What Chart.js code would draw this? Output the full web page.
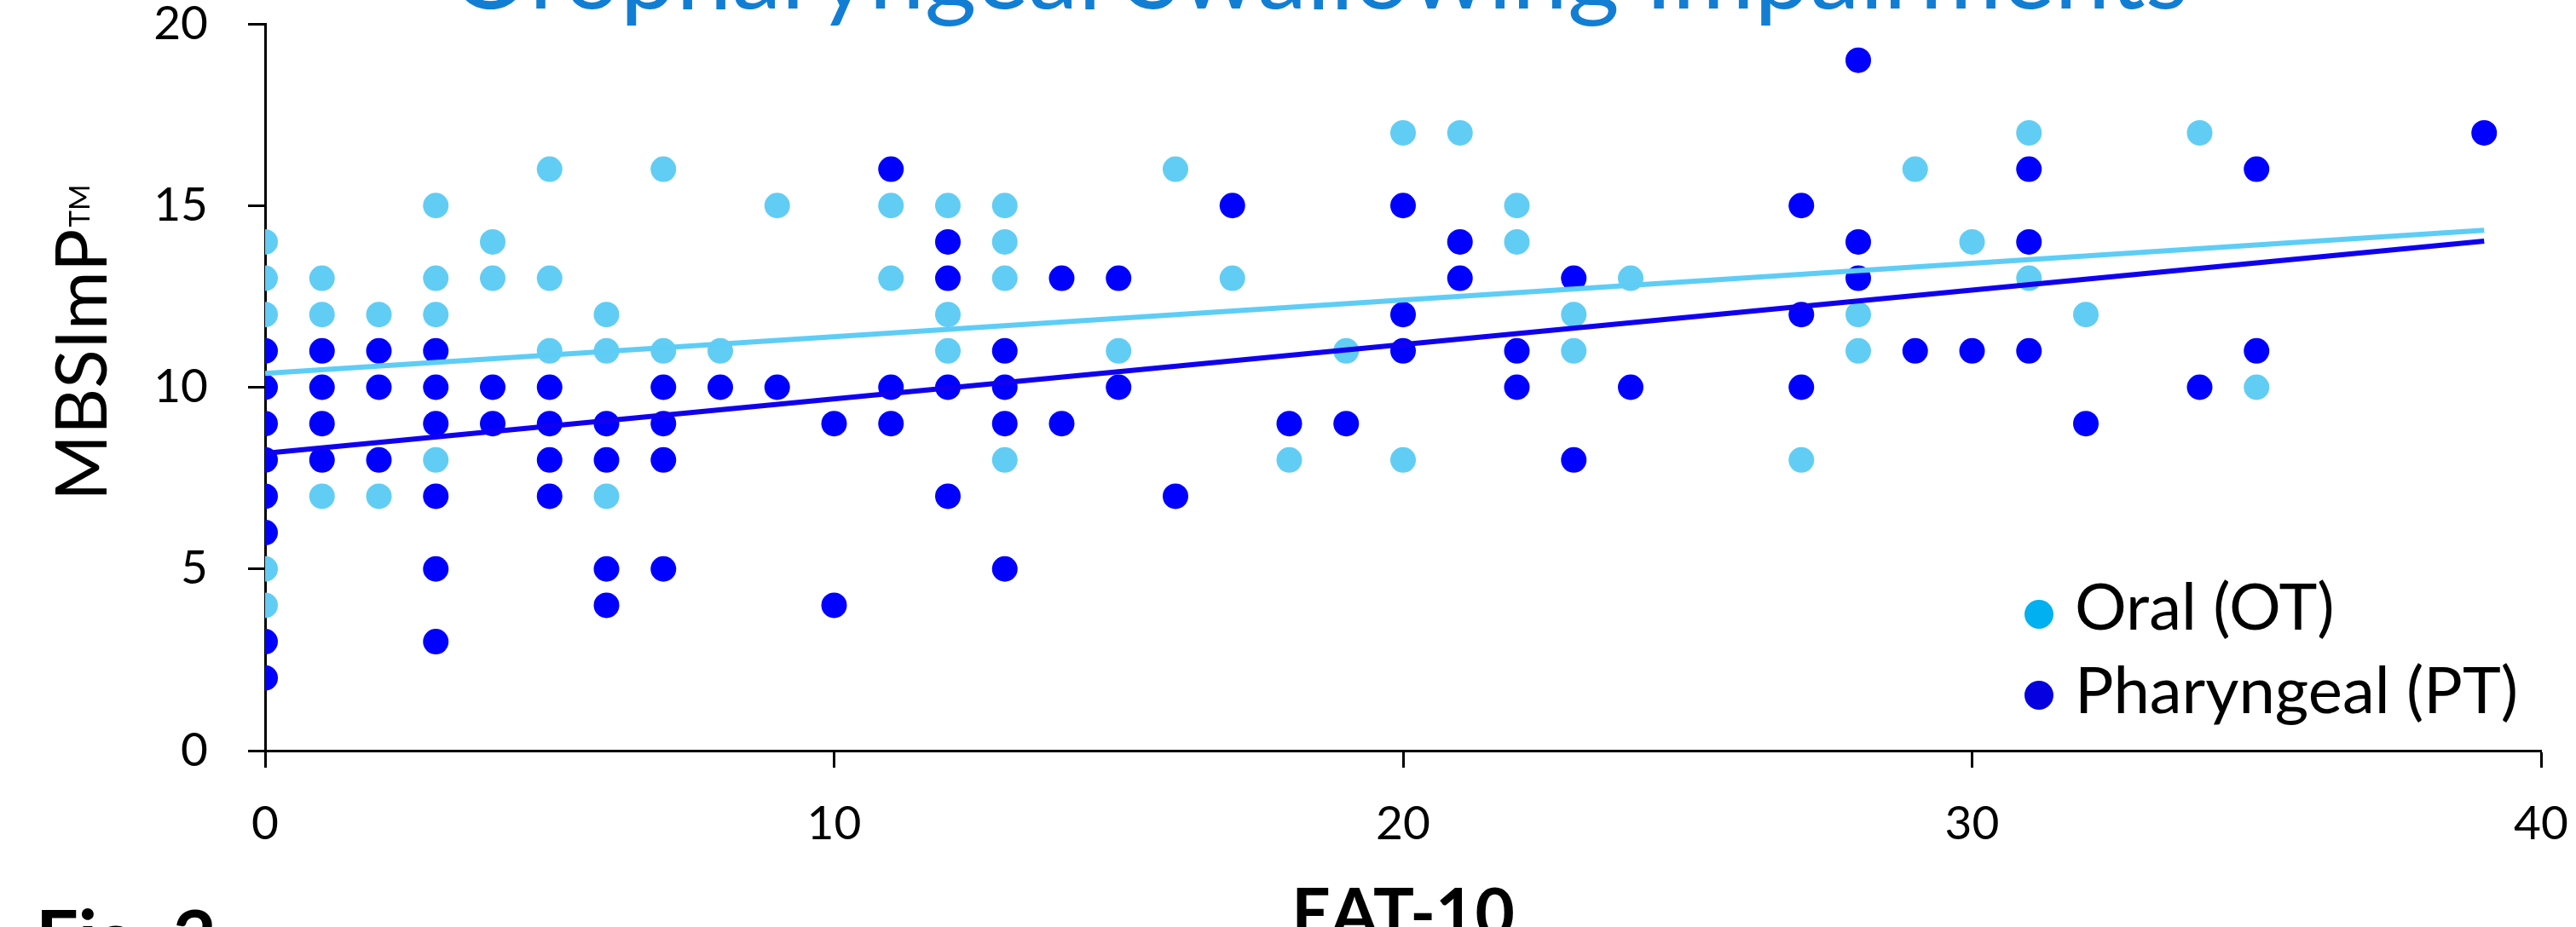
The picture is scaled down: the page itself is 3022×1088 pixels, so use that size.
<!DOCTYPE html>
<html>
<head>
<meta charset="utf-8">
<title>Oropharyngeal Swallowing Impairments</title>
<script src="https://cdn.jsdelivr.net/npm/chart.js@4.4.1/dist/chart.umd.min.js"></script>
<style>
  html, body { margin: 0; padding: 0; background: #fff; }
  #wrap { width: 3022px; height: 1088px; }
</style>
</head>
<body>
<div id="wrap"><canvas id="myChart" width="3022" height="1088"></canvas></div>
<script>
// EAT-10 score (x) vs MBSImP score (y), one entry per patient
let oralX = [0,0,0,0,0, 1,1,1, 2,2, 3,3,3,3, 4,4, 5,5,5, 6,6,6, 7,7, 8, 9, 11,11, 12,12,12,
  13,13,13,13, 15, 16, 17, 18, 19, 20,20, 21, 22,22, 23,23, 24, 27, 28,28, 29, 30, 31,31, 32, 34, 35];
let oralY = [14,13,12,5,4, 13,12,7, 12,7, 15,13,12,8, 14,13, 16,13,11, 12,11,7, 16,11, 11, 15, 15,13, 15,12,11,
  15,14,13,8, 11, 16, 13, 8, 11, 17,8, 17, 15,14, 12,11, 13, 8, 12,11, 16, 14, 17,13, 12, 17, 10];

let pharX = [0,0,0,0,0,0,0,0, 1,1,1,1, 2,2,2, 3,3,3,3,3,3, 4,4, 5,5,5,5, 6,6,6,6, 7,7,7,7, 8, 9, 10,10,
  11,11,11, 12,12,12,12, 13,13,13,13, 14,14, 15,15, 16, 17, 18, 19, 20,20,20, 21,21, 22,22, 23,23, 24,
  27,27,27, 28,28,28, 29, 30, 31,31,31, 32, 34, 35,35, 39];
let pharY = [11,10,9,8,7,6,3,2, 11,10,9,8, 11,10,8, 11,10,9,7,5,3, 10,9, 10,9,8,7, 9,8,5,4, 10,9,8,5, 10, 10, 9,4,
  16,10,9, 14,13,10,7, 11,10,9,5, 13,9, 13,10, 7, 15, 9, 9, 15,12,11, 14,13, 11,10, 13,8, 10,
  15,12,10, 19,14,13, 11, 11, 16,14,11, 9, 10, 16,11, 17];

// trend line end points
let oralTrendX = [0, 39];
let oralTrendY = [10.38, 14.32];
let pharTrendX = [0, 39];
let pharTrendY = [8.18, 14.02];

let seriesLabels = ['Oral (OT)', 'Pharyngeal (PT)'];
let pointColors = ['#62cdf4', '#0000ff'];
let lineColors = ['#5ecdf6', '#1000f0'];
let legendColors = ['#00b0f0', '#0500e0'];

let xTicks = [0, 10, 20, 30, 40];
let yTicks = [0, 5, 10, 15, 20];

function toPoints(xs, ys) {
  return xs.map(function (x, i) { return { x: x, y: ys[i] }; });
}

const FONT = "Lato, 'Noto Sans', sans-serif";

const extras = {
  id: 'extras',
  afterDraw(chart) {
    const ctx = chart.ctx;
    const area = chart.chartArea;
    ctx.save();

    // title, cut by the top edge as in the figure
    ctx.fillStyle = '#127ed3';
    ctx.font = '117px ' + FONT;
    ctx.textAlign = 'center';
    ctx.textBaseline = 'alphabetic';
    ctx.fillText('Oropharyngeal Swallowing Impairments', 1548, 10);

    // y title with small TM
    ctx.fillStyle = '#000';
    ctx.save();
    ctx.translate(125, 588);
    ctx.rotate(-Math.PI / 2);
    ctx.textAlign = 'left';
    ctx.font = '84px ' + FONT;
    ctx.fillText('MBSImP', 0, 0);
    const w = ctx.measureText('MBSImP').width;
    ctx.font = '33px ' + FONT;
    ctx.fillText('TM', w + 2, -20);
    ctx.restore();

    // x title and figure label, only their tops visible
    ctx.font = 'bold 80px ' + FONT;
    ctx.textAlign = 'center';
    ctx.fillText('EAT-10', (area.left + area.right) / 2, 1100);
    ctx.font = 'bold 88px ' + FONT;
    ctx.textAlign = 'left';
    ctx.fillText('Fig. 2', 42, 1132);

    // legend inside the plot, bottom right
    ctx.font = '76px ' + FONT;
    ctx.textAlign = 'left';
    const lx = area.right - 589;
    const rows = [area.bottom - 160, area.bottom - 65];
    const bases = [area.bottom - 142, area.bottom - 44];
    for (let i = 0; i < seriesLabels.length; i++) {
      ctx.fillStyle = legendColors[i];
      ctx.beginPath();
      ctx.arc(lx, rows[i], 17, 0, Math.PI * 2);
      ctx.fill();
      ctx.fillStyle = '#000';
      ctx.fillText(seriesLabels[i], lx + 42, bases[i]);
    }
    ctx.restore();
  }
};

let ctx = document.getElementById('myChart').getContext('2d');
let myChart = new Chart(ctx, {
  type: 'scatter',
  data: {
    datasets: [
      {
        type: 'line', label: 'Oral trend', data: toPoints(oralTrendX, oralTrendY),
        borderColor: lineColors[0], borderWidth: 6, pointRadius: 0, fill: false, order: 0
      },
      {
        type: 'line', label: 'Pharyngeal trend', data: toPoints(pharTrendX, pharTrendY),
        borderColor: lineColors[1], borderWidth: 6, pointRadius: 0, fill: false, order: 0
      },
      {
        label: seriesLabels[1], data: toPoints(pharX, pharY),
        backgroundColor: pointColors[1], pointRadius: 15, pointBorderWidth: 0, order: 1
      },
      {
        label: seriesLabels[0], data: toPoints(oralX, oralY),
        backgroundColor: pointColors[0], pointRadius: 15, pointBorderWidth: 0, order: 2
      }
    ]
  },
  options: {
    responsive: false,
    animation: false,
    devicePixelRatio: 1,
    layout: { padding: { top: 28, right: 41, left: 0, bottom: 0 } },
    plugins: {
      legend: { display: false },
      title: { display: false },
      tooltip: { enabled: false }
    },
    scales: {
      x: {
        type: 'linear', min: 0, max: 40,
        afterFit: function (s) { s.height = 207; s.paddingLeft = 0; s.paddingRight = 0; },
        afterBuildTicks: function (s) { s.ticks = xTicks.map(function (v) { return { value: v }; }); },
        grid: { drawOnChartArea: false, drawTicks: true, tickLength: 20, tickColor: '#000', tickWidth: 3 },
        border: { display: true, color: '#000', width: 3 },
        ticks: { color: '#000', padding: 33, font: { family: FONT, size: 55 } }
      },
      y: {
        type: 'linear', min: 0, max: 20,
        afterFit: function (s) { s.width = 311; s.paddingTop = 0; s.paddingBottom = 0; },
        afterBuildTicks: function (s) { s.ticks = yTicks.map(function (v) { return { value: v }; }); },
        grid: { drawOnChartArea: false, drawTicks: true, tickLength: 20, tickColor: '#000', tickWidth: 3 },
        border: { display: true, color: '#000', width: 3 },
        ticks: { color: '#000', padding: 47, font: { family: FONT, size: 55 } }
      }
    }
  },
  plugins: [extras]
});
</script>
</body>
</html>
